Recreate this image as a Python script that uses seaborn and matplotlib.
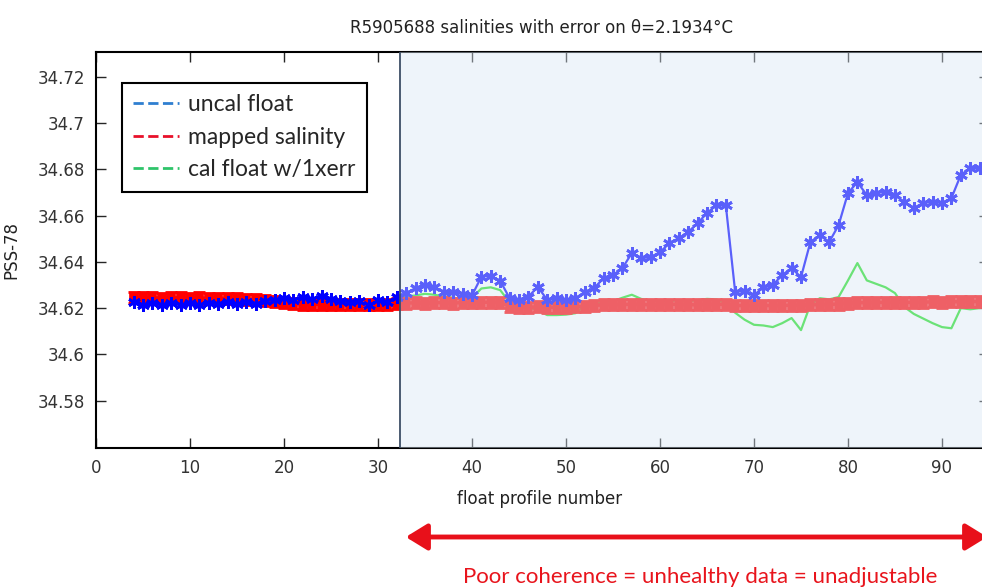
import numpy as np
import pandas as pd
import matplotlib
matplotlib.use("Agg")
import matplotlib.pyplot as plt
from matplotlib.lines import Line2D
from matplotlib.ticker import FuncFormatter
import seaborn as sns

# profile numbers
profiles = list(range(4, 95))

# uncalibrated float salinity
uncal = [34.6225, 34.6212, 34.6222, 34.6214, 34.6224, 34.6213, 34.6222, 34.6214, 34.6224, 34.6216,
         34.6225, 34.6217, 34.6226, 34.6219, 34.6230, 34.6236, 34.6244, 34.6237, 34.6249, 34.6241,
         34.6251, 34.6238, 34.6232, 34.6225, 34.6230, 34.6212, 34.6234, 34.6228, 34.6249,
         34.6265, 34.6287, 34.6300, 34.6292, 34.6270, 34.6270, 34.6262, 34.6255, 34.6336, 34.6340,
         34.6318, 34.6243, 34.6236, 34.6250, 34.6292, 34.6236, 34.6243, 34.6236, 34.6243, 34.6270,
         34.6287, 34.6330, 34.6343, 34.6373, 34.6438, 34.6416, 34.6421, 34.6442, 34.6481, 34.6503,
         34.6529, 34.6568, 34.6611, 34.6646, 34.6646, 34.6269, 34.6275, 34.6256, 34.6291, 34.6300,
         34.6343, 34.6373, 34.6334, 34.6486, 34.6516, 34.6486, 34.6559, 34.6698, 34.6745, 34.6689,
         34.6698, 34.6703, 34.6689, 34.6659, 34.6633, 34.6655, 34.6659, 34.6655, 34.6676, 34.6776,
         34.6806, 34.6806]

# mapped salinity and its error
mapped = [34.6245, 34.6244, 34.6245, 34.6243, 34.6244, 34.6245, 34.6243, 34.6244, 34.6242, 34.6243,
          34.6241, 34.6240, 34.6238, 34.6236, 34.6232, 34.6228, 34.6224, 34.6220, 34.6218, 34.6217,
          34.6216, 34.6215, 34.6216, 34.6215, 34.6214, 34.6215, 34.6216, 34.6217, 34.6220,
          34.6222, 34.6223, 34.6222, 34.6224, 34.6223, 34.6222, 34.6224, 34.6223, 34.6225, 34.6226,
          34.6224, 34.6208, 34.6205, 34.6203, 34.6206, 34.6204, 34.6203, 34.6205, 34.6206, 34.6208,
          34.6212, 34.6214, 34.6216, 34.6215, 34.6217, 34.6216, 34.6214, 34.6215, 34.6217, 34.6216,
          34.6215, 34.6214, 34.6216, 34.6217, 34.6215, 34.6212, 34.6210, 34.6211, 34.6212, 34.6210,
          34.6211, 34.6213, 34.6212, 34.6214, 34.6215, 34.6216, 34.6218, 34.6222, 34.6224, 34.6223,
          34.6225, 34.6224, 34.6226, 34.6225, 34.6224, 34.6226, 34.6227, 34.6226, 34.6228, 34.6227,
          34.6229, 34.6228]
map_err = [0.0024] * len(profiles)

# calibrated float salinity
cal = [34.6230, 34.6222, 34.6230, 34.6224, 34.6231, 34.6223, 34.6230, 34.6224, 34.6231, 34.6225,
       34.6231, 34.6226, 34.6231, 34.6227, 34.6230, 34.6232, 34.6236, 34.6232, 34.6238, 34.6234,
       34.6238, 34.6232, 34.6228, 34.6224, 34.6226, 34.6218, 34.6228, 34.6224, 34.6240,
       34.6250, 34.6255, 34.6262, 34.6258, 34.6250, 34.6245, 34.6240, 34.6245, 34.6285, 34.6290,
       34.6278, 34.6225, 34.6210, 34.6205, 34.6190, 34.6170, 34.6170, 34.6172, 34.6178, 34.6210,
       34.6220, 34.6225, 34.6230, 34.6245, 34.6258, 34.6240, 34.6232, 34.6230, 34.6230, 34.6235,
       34.6230, 34.6235, 34.6240, 34.6238, 34.6220, 34.6180, 34.6150, 34.6128, 34.6125, 34.6118,
       34.6135, 34.6157, 34.6105, 34.6215, 34.6243, 34.6238, 34.6248, 34.6320, 34.6395, 34.6320,
       34.6305, 34.6290, 34.6265, 34.6205, 34.6175, 34.6155, 34.6135, 34.6118, 34.6113, 34.6200,
       34.6195, 34.6200]

x_ticks = [0, 10, 20, 30, 40, 50, 60, 70, 80, 90]
y_ticks = [34.58, 34.60, 34.62, 34.64, 34.66, 34.68, 34.70, 34.72]
split_profile = 32.3

df = pd.DataFrame({"profile": profiles, "uncal": uncal, "mapped": mapped,
                   "err": map_err, "cal": cal})

sns.set_style("ticks")
narrow = ["Liberation Sans Narrow", "DejaVu Sans"]
plt.rcParams["font.family"] = narrow

fig = plt.figure(figsize=(9.82, 5.87), dpi=100)
ax = fig.add_axes([96 / 982, 139 / 587, 893 / 982, 396 / 587])

# cal float (under everything)
sns.lineplot(data=df, x="profile", y="cal", color="#1ee01e", lw=1.6, ax=ax, zorder=2)
# mapped salinity with errors
ax.errorbar(df["profile"], df["mapped"], yerr=df["err"], color="red", lw=2.5,
            elinewidth=7, capsize=4, capthick=2, zorder=3)
# uncal float
sns.lineplot(data=df, x="profile", y="uncal", color="#0000ff", lw=1.6,
             marker=(6, 2, 0), markersize=9, markeredgewidth=2,
             markeredgecolor="#0000ff", ax=ax, zorder=4)

# shaded unadjustable region
ax.axvspan(split_profile, 100, color="#d8e6f4", alpha=0.42, lw=0, zorder=5)
ax.axvline(split_profile, color="#3d4e66", lw=1.3, zorder=6)

ax.set_xlim(0, 95)
ax.set_ylim(34.5595, 34.7308)
ax.set_xticks(x_ticks)
ax.set_yticks(y_ticks)
ax.yaxis.set_major_formatter(FuncFormatter(lambda v, p: f"{v:g}"))
ax.tick_params(direction="in", length=7, width=1, top=True, right=True,
               labelsize=12, labelcolor="#333333", pad=8)
for s in ax.spines.values():
    s.set_linewidth(1.5)
    s.set_color("black")

ax.set_xlabel("float profile number", fontsize=12, color="#222222")
ax.xaxis.set_label_coords(0.497, -0.105)
ax.set_ylabel("PSS-78", fontsize=12, color="#222222")
ax.yaxis.set_label_coords(-0.085, 0.5)

fig.text(541 / 982, 1 - 28 / 587, "R5905688 salinities with error on θ=2.1934°C",
         ha="center", va="center", fontsize=12, color="#222222")

handles = [Line2D([], [], color="#2f7fd0", ls="--", lw=2),
           Line2D([], [], color="#e8102a", ls="--", lw=2),
           Line2D([], [], color="#2fc46a", ls="--", lw=2)]
leg = ax.legend(handles, ["uncal float", "mapped salinity", "cal float w/1xerr"],
                loc="upper left", bbox_to_anchor=(0.029, 0.922), borderaxespad=0,
                fancybox=False, framealpha=1, edgecolor="black", handlelength=2.0,
                handletextpad=0.4, borderpad=0.5, labelspacing=0.5,
                prop={"family": "Lato", "size": 16.5})
leg.get_frame().set_linewidth(1.5)
leg.set_zorder(10)

# arrow and annotation beneath
fig.patches.append(matplotlib.patches.FancyArrowPatch(
    (403 / 982, 50 / 587), (990 / 982, 50 / 587), transform=fig.transFigure,
    arrowstyle="<|-|>,head_length=13,head_width=8", color="#e8101a", lw=3.5,
    mutation_scale=1))
fig.text(700 / 982, 10 / 587, "Poor coherence = unhealthy data = unadjustable",
         ha="center", va="center", fontsize=16, color="#e8141c", family="Lato")

fig.savefig("out.png", dpi=100)
